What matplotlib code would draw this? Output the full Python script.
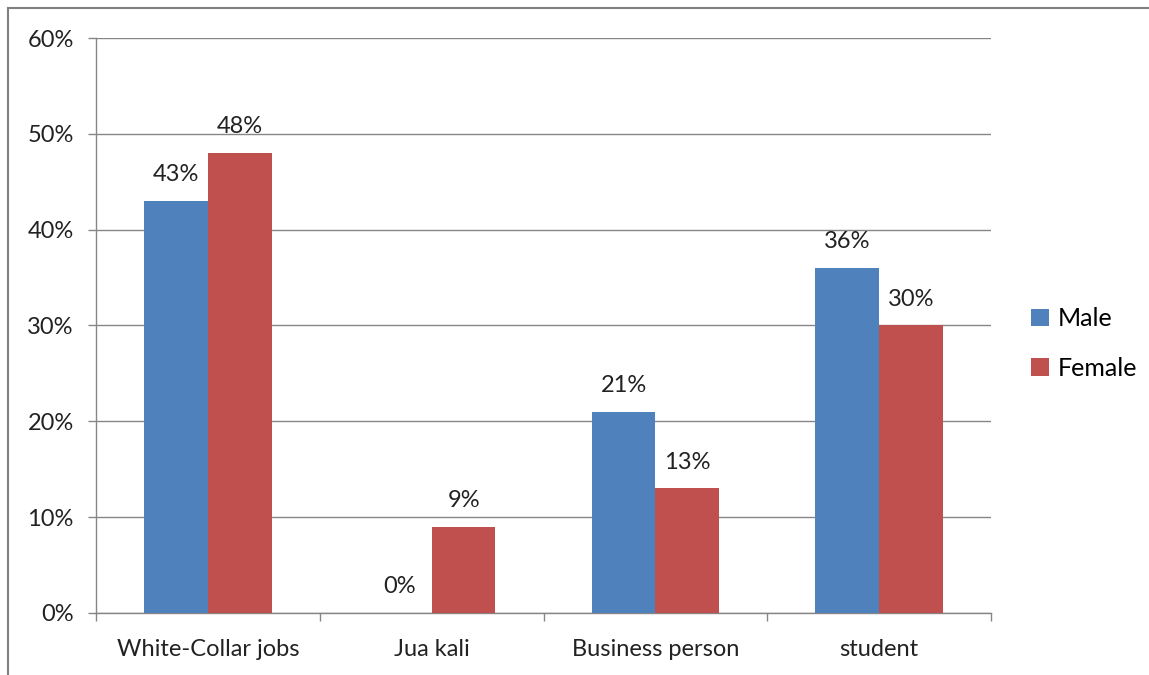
import matplotlib.pyplot as plt
import numpy as np
from matplotlib.lines import Line2D

categories = ['White-Collar jobs', 'Jua kali', 'Business person', 'student']
male = [43, 0, 21, 36]
female = [48, 9, 13, 30]
series_names = ['Male', 'Female']
yticks = [0, 10, 20, 30, 40, 50, 60]

plt.rcParams['font.family'] = ['Lato', 'DejaVu Sans']
GRID = '#868686'
BLUE = '#4F81BD'
RED = '#C0504D'
FS = 17

fig = plt.figure(figsize=(11.49, 6.75), dpi=100)
ax = fig.add_axes([0.0836, 0.0919, 0.779, 0.8518])

x = np.arange(len(categories))
w = 0.285
b1 = ax.bar(x - w / 2, male, w, color=BLUE, label=series_names[0], zorder=3)
b2 = ax.bar(x + w / 2, female, w, color=RED, label=series_names[1], zorder=3)

for bars, vals in [(b1, male), (b2, female)]:
    for rect, v in zip(bars, vals):
        ax.annotate(f'{v}%', (rect.get_x() + rect.get_width() / 2, v),
                    xytext=(0, 19), textcoords='offset points',
                    ha='center', va='center', fontsize=FS, color='#222222')

ax.set_xlim(-0.5, len(categories) - 0.5)
ax.set_ylim(0, 60)
ax.set_yticks(yticks)
ax.set_yticklabels([f'{t}%' for t in yticks], fontsize=FS, color='#222222')
ax.set_xticks(x)
ax.set_xticklabels(categories, fontsize=FS, color='#222222')
ax.set_xticks(np.arange(-0.5, len(categories), 1), minor=True)
ax.tick_params(axis='x', which='major', length=0, pad=19)
ax.tick_params(axis='x', which='minor', length=6, color=GRID, width=1)
ax.tick_params(axis='y', length=6, color=GRID, width=1, pad=10)

ax.yaxis.grid(True, color=GRID, linewidth=1, zorder=0)
ax.set_axisbelow(True)
for s in ['top', 'right']:
    ax.spines[s].set_visible(False)
for s in ['left', 'bottom']:
    ax.spines[s].set_color(GRID)
    ax.spines[s].set_linewidth(1)

ax.legend(loc='center left', bbox_to_anchor=(0.878, 0.491), bbox_transform=fig.transFigure,
          frameon=False, fontsize=18, handlelength=0.7, handleheight=0.7,
          handletextpad=0.35, labelspacing=1.05)

# outer chart border (left and top edges visible)
fig.add_artist(Line2D([0.007, 0.007], [0, 0.988], transform=fig.transFigure, color='#808080', lw=1.5))
fig.add_artist(Line2D([0.007, 1.0], [0.988, 0.988], transform=fig.transFigure, color='#808080', lw=1.5))

fig.savefig('out.png', dpi=100)
